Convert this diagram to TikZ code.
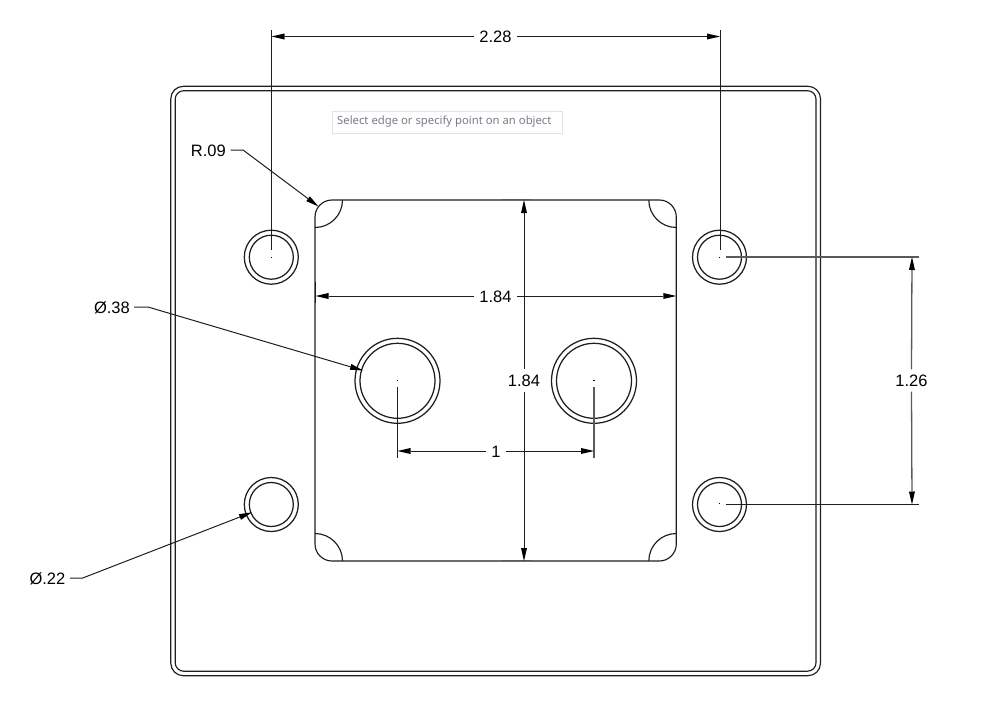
\documentclass[tikz,border=0pt]{standalone}
\usepackage{fontspec}
\setmainfont{Liberation Sans}
\newfontfamily\tipfont{Noto Sans}
\usetikzlibrary{arrows.meta}
\definecolor{ink}{HTML}{1E1E1E}
\definecolor{dimgray}{HTML}{5A5A5A}
\definecolor{tipink}{HTML}{7C7A88}
\definecolor{tipedge}{HTML}{E2E2E2}
\tikzset{
  part/.style={draw=ink,line width=1.15pt},
  hole/.style={draw=ink,line width=1.25pt,fill=none},
  dimline/.style={draw=ink,line width=1pt},
  dimgrayline/.style={draw=dimgray,line width=1.3pt},
  witness/.style={draw=ink,line width=1pt},
  witnessgray/.style={draw=dimgray,line width=1.3pt},
  tick/.style={draw=ink,line width=1.6pt},
  softtick/.style={draw=dimgray,line width=1pt},
  tip/.style={-{Triangle[length=13pt,width=6pt,fill=black,color=black,line width=0pt]}},
  dimtext/.style={text=black,font=\fontsize{16.5pt}{18pt}\selectfont,inner xsep=5pt,inner ysep=5pt,
    text height=12pt,text depth=0pt,anchor=center},
  tipbox/.style={draw=tipedge,line width=.9pt,minimum width=230pt,minimum height=22pt,inner sep=0pt},
  tiptext/.style={text=tipink,inner sep=0pt,anchor=west,font=\tipfont\fontsize{11.3pt}{13pt}\selectfont},
  centre/.style={fill=black,minimum size=1.2pt,inner sep=0pt,draw=none,shape=rectangle},
}
\begin{document}
\begin{tikzpicture}[x=1pt,y=-1pt]
\useasboundingbox (0,0) rectangle (990,712);
% plate
\draw[part,rounded corners=12.5pt] (170.8,86.3) rectangle (820.5,675.7);
\draw[part,rounded corners=8.5pt] (175.2,90.7) rectangle (816,671.2);
% cut-out
\draw[part,rounded corners=17pt] (315,200) rectangle (676.3,561);
\draw[part] (342.5,200) arc[start angle=0,end angle=90,radius=27.5];
\draw[part] (648.8,200) arc[start angle=180,end angle=90,radius=27.5];
\draw[part] (342.5,561) arc[start angle=0,end angle=-90,radius=27.5];
\draw[part] (648.8,561) arc[start angle=180,end angle=270,radius=27.5];
% holes
\foreach \x/\y in {271.3/257.2,719.5/257.2,271.3/504.5,719.5/504.5}{
  \draw[hole] (\x,\y) circle[radius=27];
  \draw[hole] (\x,\y) circle[radius=22];
}
\foreach \x/\y in {397.5/380.8,594/380.8}{
  \draw[hole] (\x,\y) circle[radius=42.5];
  \draw[hole] (\x,\y) circle[radius=37.5];
}
\node[centre] (ctra) at (271.3,257.2) {};
\node[centre] (ctrb) at (719.5,257.2) {};
\node[centre] (ctrd) at (719.5,503.5) {};
\node[centre] (ctre) at (397.5,380.8) {};
\node[centre] (ctrf) at (594,380.8) {};
% tooltip
\node[tipbox] (hint) at (447.5,122.3) {};
\node[tiptext] (hinttext) at (337,121.5) {Select edge or specify point on an object};
% dimension labels
\node[dimtext] (topdim) at (495.5,36.5) {2.28};
\node[dimtext] (hdim) at (495.5,296) {1.84};
\node[dimtext] (vdim) at (524,380.5) {1.84};
\node[dimtext] (onedim) at (496,451) {1};
\node[dimtext] (rdim) at (911.5,380.5) {1.26};
\node[dimtext,anchor=east,inner xsep=0pt] (rlabel) at (226,150) {R.09};
\node[dimtext,anchor=east,inner xsep=0pt] (dlarge) at (130,307) {Ø.38};
\node[dimtext,anchor=east,inner xsep=0pt] (dsmall) at (65.5,578) {Ø.22};
% coordinates
\coordinate (tl) at (271.5,36.5);
\coordinate (tr) at (720,36.5);
\coordinate (tlend) at (271.5,30);
\coordinate (trend) at (720,30);
\coordinate (tlfoot) at (271.5,250);
\coordinate (trfoot) at (720,250);
\coordinate (hl) at (315.5,296);
\coordinate (hr) at (676.3,296);
\coordinate (vt) at (524,200);
\coordinate (vb) at (524,561);
\coordinate (ol) at (397.5,451);
\coordinate (or) at (594,451);
\coordinate (olt) at (397.5,387);
\coordinate (olb) at (397.5,457.5);
\coordinate (ort) at (594,387);
\coordinate (orb) at (594,457.5);
\coordinate (rt) at (912,257);
\coordinate (rb) at (912,504.5);
\coordinate (rts) at (726,257);
\coordinate (rte) at (919,257);
\coordinate (rbs) at (726,504.5);
\coordinate (rbe) at (919,504.5);
\coordinate (relbow) at (243,150);
\coordinate (rtip) at (318.5,206.5);
\coordinate (lelbow) at (148,307);
\coordinate (ltip) at (363,370.5);
\coordinate (selbow) at (82.7,578);
\coordinate (stip) at (252,512.3);
\coordinate (ltickA) at (315.5,281.7);
\coordinate (ltickB) at (315.5,303);
\coordinate (rtickA) at (676.3,281.7);
\coordinate (rtickB) at (676.3,303);
\coordinate (ttickA) at (501.7,199.4);
\coordinate (ttickB) at (531.7,199.4);
\coordinate (btickA) at (501.7,560.4);
\coordinate (btickB) at (531.7,560.4);
% witness lines
\draw[witness] (tlend) -- (tlfoot);
\draw[witness] (trend) -- (trfoot);
\draw[witness] (olt) -- (olb);
\draw[witnessgray] (ort) -- (orb);
\draw[witnessgray] (rts) -- (rte);
\draw[witness] (rbs) -- (rbe);
\draw[tick] (ltickA) -- (ltickB);
\draw[tick] (rtickA) -- (rtickB);
\draw[softtick] (ttickA) -- (ttickB);
\draw[softtick] (btickA) -- (btickB);
% dimension lines
\draw[dimline,tip] (topdim.west) -- (tl);
\draw[dimline,tip] (topdim.east) -- (tr);
\draw[dimline,tip] (hdim.west) -- (hl);
\draw[dimline,tip] (hdim.east) -- (hr);
\draw[dimline,tip] (vdim.north) -- (vt);
\draw[dimline,tip] (vdim.south) -- (vb);
\draw[dimline,tip] (onedim.west) -- (ol);
\draw[dimline,tip] (onedim.east) -- (or);
\draw[dimgrayline,tip] (rdim.north) -- (rt);
\draw[dimgrayline,tip] (rdim.south) -- (rb);
% leaders
\draw[dimline,tip] (rlabel.east) ++(4.5,0) -- (relbow) -- (rtip);
\draw[dimline,tip] (dlarge.east) ++(4,0) -- (lelbow) -- (ltip);
\draw[dimline,tip] (dsmall.east) ++(4.5,0) -- (selbow) -- (stip);
\end{tikzpicture}
\end{document}
